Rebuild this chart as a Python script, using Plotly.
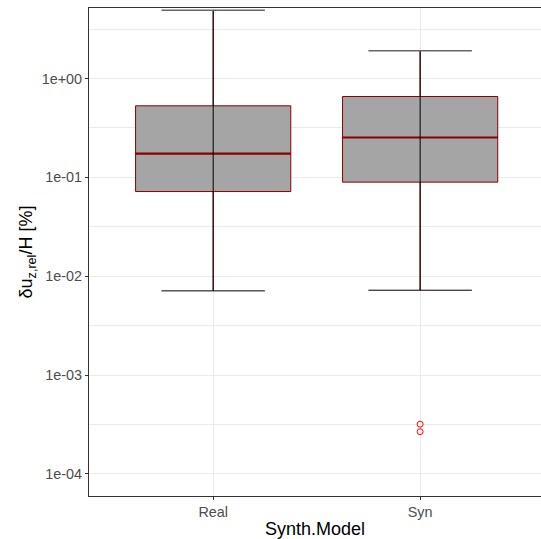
import plotly.graph_objects as go

categories = ["Real", "Syn"]
q1 = [0.0718, 0.0894]
median = [0.174, 0.253]
q3 = [0.529, 0.657]
lower_whisker = [0.0071, 0.00721]
upper_whisker = [4.90, 1.91]
outlier_cat = ["Syn", "Syn"]
outlier_vals = [3.18e-4, 2.67e-4]
ytick_vals = [1e-4, 1e-3, 1e-2, 1e-1, 1e0]
ytick_text = ["1e-04", "1e-03", "1e-02", "1e-01", "1e+00"]

pos = {c: i + 1 for i, c in enumerate(categories)}
xs = [pos[c] for c in categories]
box_w = 0.75
cap_w = 0.5

fig = go.Figure()

for i, c in enumerate(categories):
    fig.add_trace(go.Box(
        x=[xs[i]], q1=[q1[i]], median=[median[i]], q3=[q3[i]],
        lowerfence=[lower_whisker[i]], upperfence=[upper_whisker[i]],
        width=box_w, whiskerwidth=0, boxpoints=False,
        fillcolor="#A5A5A5", line=dict(color="#8B0000", width=1),
        showlegend=False, hoverinfo="skip",
    ))

# medians
mx, my = [], []
for i in range(len(categories)):
    mx += [xs[i] - box_w / 2, xs[i] + box_w / 2, None]
    my += [median[i], median[i], None]
fig.add_trace(go.Scatter(x=mx, y=my, mode="lines", line=dict(color="#8B0000", width=2.2),
                         showlegend=False, hoverinfo="skip"))
# whiskers (vertical) + lower caps
vx, vy = [], []
for i in range(len(categories)):
    vx += [xs[i], xs[i], None]
    vy += [lower_whisker[i], upper_whisker[i], None]
    vx += [xs[i] - cap_w / 2, xs[i] + cap_w / 2, None]
    vy += [lower_whisker[i], lower_whisker[i], None]
fig.add_trace(go.Scatter(x=vx, y=vy, mode="lines", line=dict(color="black", width=1),
                         showlegend=False, hoverinfo="skip"))
# upper caps
ux, uy = [], []
for i in range(len(categories)):
    ux += [xs[i] - cap_w / 2, xs[i] + cap_w / 2, None]
    uy += [upper_whisker[i], upper_whisker[i], None]
fig.add_trace(go.Scatter(x=ux, y=uy, mode="lines", line=dict(color="#666666", width=1.5),
                         showlegend=False, hoverinfo="skip", cliponaxis=False))
# outliers
fig.add_trace(go.Scatter(x=[pos[c] for c in outlier_cat], y=outlier_vals, mode="markers",
                         marker=dict(symbol="circle-open", color="red", size=6, line=dict(width=1)),
                         showlegend=False, hoverinfo="skip"))

minor_vals = [10 ** (k + 0.5) for k in range(-5, 1)]

fig.update_layout(
    width=541, height=539,
    margin=dict(l=89, r=0, t=8, b=43),
    paper_bgcolor="white", plot_bgcolor="white",
    font=dict(family="Liberation Sans, Arial, sans-serif"),
    xaxis=dict(
        range=[0.4, 2.584], tickvals=xs, ticktext=categories,
        showgrid=True, gridcolor="#EBEBEB", gridwidth=1,
        showline=True, linecolor="#333333", linewidth=1, mirror=True,
        ticks="outside", ticklen=3, tickcolor="#333333", tickwidth=1,
        tickfont=dict(size=14.4, color="#4D4D4D"),
        title=dict(text="Synth.Model", font=dict(size=18, color="black"), standoff=4),
        zeroline=False,
    ),
    yaxis=dict(
        type="log", range=[-4.224, 0.713],
        tickvals=ytick_vals, ticktext=ytick_text,
        showgrid=True, gridcolor="#EBEBEB", gridwidth=1,
        minor=dict(tickvals=minor_vals, showgrid=True, gridcolor="#EBEBEB", gridwidth=0.5, ticks=""),
        showline=True, linecolor="#333333", linewidth=1, mirror=False,
        ticks="outside", ticklen=3, tickcolor="#333333", tickwidth=1,
        tickfont=dict(size=14.4, color="#4D4D4D"),
        title=dict(text="δu<sub>z,rel</sub>/H [%]", font=dict(size=18, color="black"), standoff=4),
        zeroline=False,
    ),
)

fig.write_html("out.html", config={"displayModeBar": False},
               post_script="document.body.style.margin='0';document.body.style.overflow='hidden';")
